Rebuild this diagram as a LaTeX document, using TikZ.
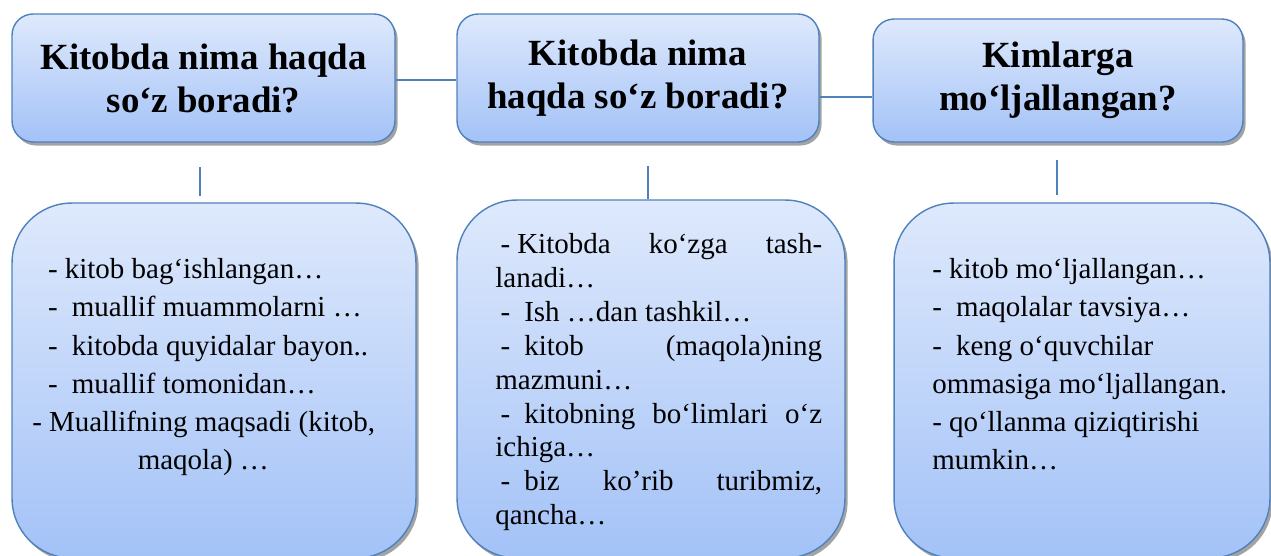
\documentclass[tikz,border=0pt]{standalone}
\usepackage{fontspec}
\setmainfont{Liberation Serif}
\usepackage{tikz}
\usetikzlibrary{shadows}
\definecolor{boxline}{RGB}{79,129,189}
\definecolor{boxtop}{RGB}{222,233,252}
\definecolor{boxbottom}{RGB}{163,194,247}
\newcommand{\dashone}{-\hspace{4pt}}
\newcommand{\dashtwo}{-\hspace{8pt}}

\begin{document}
\begin{tikzpicture}[x=0.02cm, y=-0.02cm,
		box/.style={draw=boxline, line width=0.8pt, top color=boxtop, bottom color=boxbottom, drop shadow={shadow xshift=1.5pt, shadow yshift=-2pt, fill=black!60, opacity=0.6}, inner sep=0pt},
		headbox/.style={box, rounded corners=12pt, align=center, font=\fontsize{21}{24.5}\selectfont\bfseries},
		bodybox/.style={box, rounded corners=34pt},
		bodytext/.style={anchor=north west, inner sep=0pt, align=left, font=\fontsize{16.5}{21.8}\selectfont},
		link/.style={draw=boxline, line width=0.8pt}]
		\useasboundingbox (0,0) rectangle (1271,555);
		\node[headbox, minimum width=7.66cm, minimum height=2.56cm] (head1) at (203.5,78) {Kitobda nima haqda\\so‘z boradi?};
		\node[headbox, minimum width=7.24cm, minimum height=2.56cm] (head2) at (638,78) {Kitobda nima\\haqda so‘z boradi?};
		\node[headbox, minimum width=7.40cm, minimum height=2.46cm] (head3) at (1058,80.5) {Kimlarga\\mo‘ljallangan?};
		\draw[link] ([yshift=-0.04cm]head1.east) -- ([yshift=-0.04cm]head1.east -| head2.west);
		\draw[link] ([yshift=-0.38cm]head2.east) -- ([yshift=-0.38cm]head2.east -| head3.west);
		\coordinate (drop1a) at (200,167);
		\coordinate (drop1b) at (200,196);
		\coordinate (drop2a) at (648,166);
		\coordinate (drop2b) at (648,199);
		\coordinate (drop3a) at (1057,160);
		\coordinate (drop3b) at (1057,195);
		\draw[link] (drop1a) -- (drop1b);
		\draw[link] (drop2a) -- (drop2b);
		\draw[link] (drop3a) -- (drop3b);
		\node[bodybox, minimum width=8.08cm, minimum height=7.10cm] (body1) at (214,380.5) {};
		\node[bodybox, minimum width=7.76cm, minimum height=7.16cm] (body2) at (651,379) {};
		\node[bodybox, minimum width=7.52cm, minimum height=7.10cm] (body3) at (1082,380.5) {};
		\node[bodytext] (text1) at (32,258) {\hspace*{9pt}\dashone kitob bag‘ishlangan…\\
			\hspace*{9pt}\dashtwo muallif muammolarni …\\
			\hspace*{9pt}\dashtwo kitobda quyidalar bayon..\\
			\hspace*{9pt}\dashtwo muallif tomonidan…\\
			\dashone Muallifning maqsadi (kitob,\\
			\hspace*{60pt}maqola) …};
		\node[bodytext, text width=186pt, align=justify, font=\fontsize{16.5}{19.3}\selectfont] (text2) at (495,233) {\hspace*{3pt}\dashone Kitobda ko‘zga tash-\linebreak lanadi…\\
			\hspace*{3pt}\dashtwo Ish …dan tashkil…\\
			\hspace*{3pt}\dashtwo kitob (maqola)ning\linebreak mazmuni…\\
			\hspace*{3pt}\dashtwo kitobning bo‘limlari o‘z\linebreak ichiga…\\
			\hspace*{3pt}\dashtwo biz ko’rib turibmiz,\linebreak qancha…};
		\node[bodytext] (text3) at (932,258) {\dashone kitob mo‘ljallangan…\\
			\dashtwo maqolalar tavsiya…\\
			\dashtwo keng o‘quvchilar\\
			ommasiga mo‘ljallangan.\\
			\dashone qo‘llanma qiziqtirishi\\
			mumkin…};
	\end{tikzpicture}
\end{document}
